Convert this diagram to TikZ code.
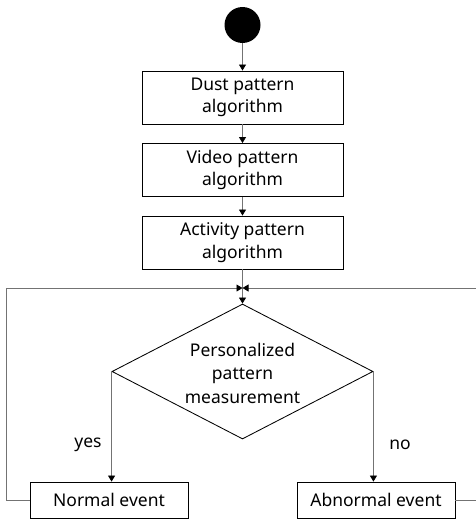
\documentclass[tikz,border=0pt]{standalone}
\usepackage{fontspec}
\setmainfont{Noto Sans}
\usetikzlibrary{arrows.meta,shapes.geometric}
\begin{document}
\begin{tikzpicture}[x=1pt,y=-1pt,
  box/.style={draw=black,line width=0.85pt,rectangle,inner sep=0pt,align=center,
    font=\fontsize{17.5}{22.5}\selectfont},
  conn/.style={draw=black!55,line width=0.8pt,-{Triangle[width=7pt,length=6pt,color=black]}},
  plain/.style={draw=black!55,line width=0.8pt},
  lbl/.style={font=\fontsize{17.5}{22}\selectfont,inner sep=0pt}]
\useasboundingbox (0,0) rectangle (476,522);
\node[circle,fill=black,minimum size=36pt,inner sep=0pt] (start) at (242.5,25) {};
\node[box,minimum width=201pt,minimum height=53pt] (dust) at (242.5,97.5) {Dust pattern\\algorithm};
\node[box,minimum width=201pt,minimum height=53pt] (video) at (242.5,170) {Video pattern\\algorithm};
\node[box,minimum width=201pt,minimum height=53pt] (act) at (242.5,242.5) {Activity pattern\\algorithm};
\coordinate (merge) at (242.5,288);
\node[diamond,draw=black,line width=0.85pt,minimum width=261pt,minimum height=135pt,inner sep=0pt] (dia) at (242.5,371.5) {};
\node[lbl,align=center,font=\fontsize{17.5}{23.5}\selectfont] (dtext) at (242.5,373) {Personalized\\pattern\\measurement};
\node[box,minimum width=158pt,minimum height=36pt] (normal) at (109,500) {Normal event};
\node[box,minimum width=158pt,minimum height=36pt] (abn) at (376,500) {Abnormal event};
\node[lbl] (yes) at (88,445) {yes};
\node[lbl] (no) at (400,445) {no};
\draw[conn] (start) -- (dust);
\draw[conn] (dust) -- (video);
\draw[conn] (video) -- (act);
\draw[plain] (act) -- (merge);
\draw[conn] (merge) -- (dia.north);
\draw[conn] (normal.west) -- ++(-23,0) |- (merge);
\draw[conn] (abn.east) -- ++(22,0) |- (merge);
\draw[conn] (dia.west) -- (dia.west |- normal.north);
\draw[conn] (dia.east) -- (dia.east |- abn.north);
\end{tikzpicture}
\end{document}
